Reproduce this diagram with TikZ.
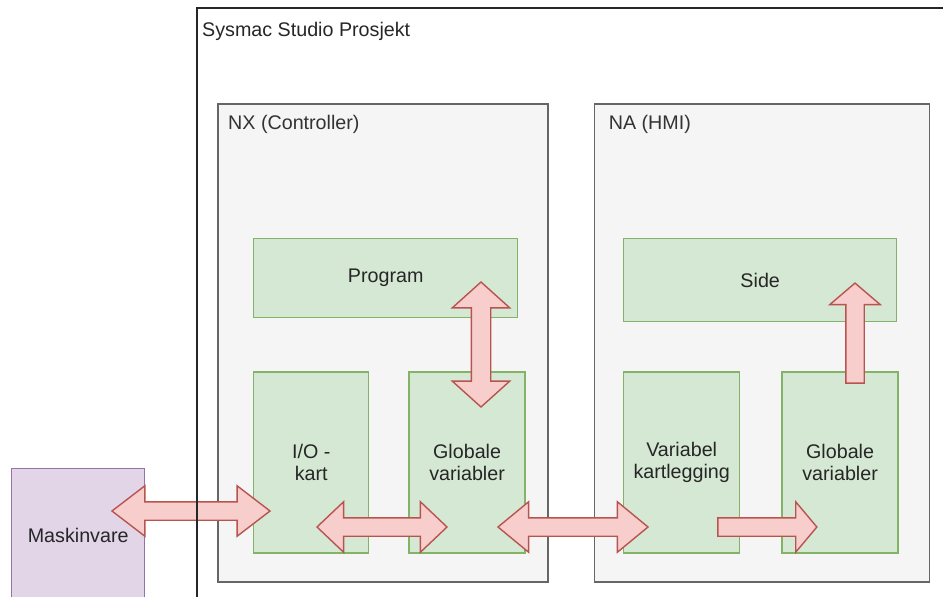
\documentclass[tikz,border=0pt]{standalone}
\usepackage{fontspec}
\setmainfont{Liberation Sans}
\usepackage{tikz}
\usetikzlibrary{positioning,calc,shapes.arrows}

\definecolor{grpfill}{HTML}{F5F5F5}
\definecolor{grpline}{HTML}{666666}
\definecolor{grptext}{HTML}{333333}
\definecolor{blkfill}{HTML}{D5E8D4}
\definecolor{blkline}{HTML}{82B366}
\definecolor{hwfill}{HTML}{E1D5E7}
\definecolor{hwline}{HTML}{9673A6}
\definecolor{arrfill}{HTML}{F8CECC}
\definecolor{arrline}{HTML}{B85450}

\tikzset{
	every node/.style={font=\fontsize{19.7pt}{22pt}\selectfont, text=black!85},
	grp/.style={draw=grpline, fill=grpfill, line width=1.6pt, anchor=north west},
	blk/.style={draw=blkline, fill=blkfill, line width=1.4pt, align=center, anchor=north west},
	dblarr/.style={double arrow, draw=arrline, fill=arrfill, line width=1.4pt,
		inner xsep=0pt, inner ysep=8.5pt, double arrow head extend=16pt},
	sglarr/.style={single arrow, draw=arrline, fill=arrfill, line width=1.4pt,
		inner xsep=0pt, inner ysep=8.5pt, single arrow head extend=16pt}
}

\begin{document}
\begin{tikzpicture}[x=1pt, y=-1pt]
	
	\useasboundingbox (0,0) rectangle (943,597);
	
	% Hardware
	\node [draw=hwline,
	fill=hwfill,
	line width=1.4pt,
	minimum width=133pt,
	minimum height=134pt,
	anchor=north west
	] (hw) at (11,468) {Maskinvare};
	
	% Controller
	\node [grp,
	minimum width=330pt,
	minimum height=478pt
	] (nx) at (217,103) {};
	\node [anchor=base west, inner sep=0pt, text=grptext] (nxlbl) at ($(nx.north west)+(11,26)$) {NX (Controller)};
	
	% HMI
	\node [grp,
	minimum width=335pt,
	minimum height=478pt,
	right=45pt of nx
	] (na) {};
	\node [anchor=base west, inner sep=0pt, text=grptext] (nalbl) at ($(na.north west)+(15,26)$) {NA (HMI)};
	
	% Controller blocks
	\node [blk,
	minimum width=264pt,
	minimum height=79pt
	] (prog) at (253,238) {Program};
	
	\node [blk,
	minimum width=115pt,
	minimum height=181pt,
	below=53pt of prog.south west,
	anchor=north west
	] (io) {I/O -\\kart};
	
	\node [blk,
	minimum width=116pt,
	minimum height=181pt,
	right=39pt of io
	] (gvnx) {Globale\\variabler};
	
	% HMI blocks
	\node [blk,
	minimum width=273pt,
	minimum height=83pt
	] (side) at (623,238) {Side};
	
	\node [blk,
	minimum width=116pt,
	minimum height=181pt,
	below=49pt of side.south west,
	anchor=north west
	] (vmap) {Variabel\\kartlegging};
	
	\node [blk,
	minimum width=116pt,
	minimum height=181pt,
	right=41pt of vmap
	] (gvna) {Globale\\variabler};
	
	% Arrows
	\node [dblarr, minimum height=158pt, double arrow tip angle=75] (hwio) at (191,511) {};
	
	\node [dblarr, minimum height=130pt, double arrow tip angle=87] (iogv) at (382,527) {};
	
	\node [dblarr, minimum height=150pt, double arrow tip angle=79] (gvvm) at (573,527) {};
	
	\node [sglarr, minimum height=99pt, single arrow tip angle=100] (vmgv) at (763.5,527) {};
	
	\node [dblarr, inner ysep=9pt, double arrow head extend=19pt, minimum height=125pt,
	double arrow tip angle=96, rotate=90] (pggv) at (481,344.5) {};
	
	\node [sglarr, minimum height=100pt, single arrow tip angle=99,
	rotate=90] (gvside) at (855,337) {};
	
	% Project frame
	\draw [black!85, line width=1.6pt] (197,620) |- (960,8);
	\node [anchor=base west, inner sep=0pt] (ttl) at (202,36) {Sysmac Studio Prosjekt};
	
\end{tikzpicture}
\end{document}
